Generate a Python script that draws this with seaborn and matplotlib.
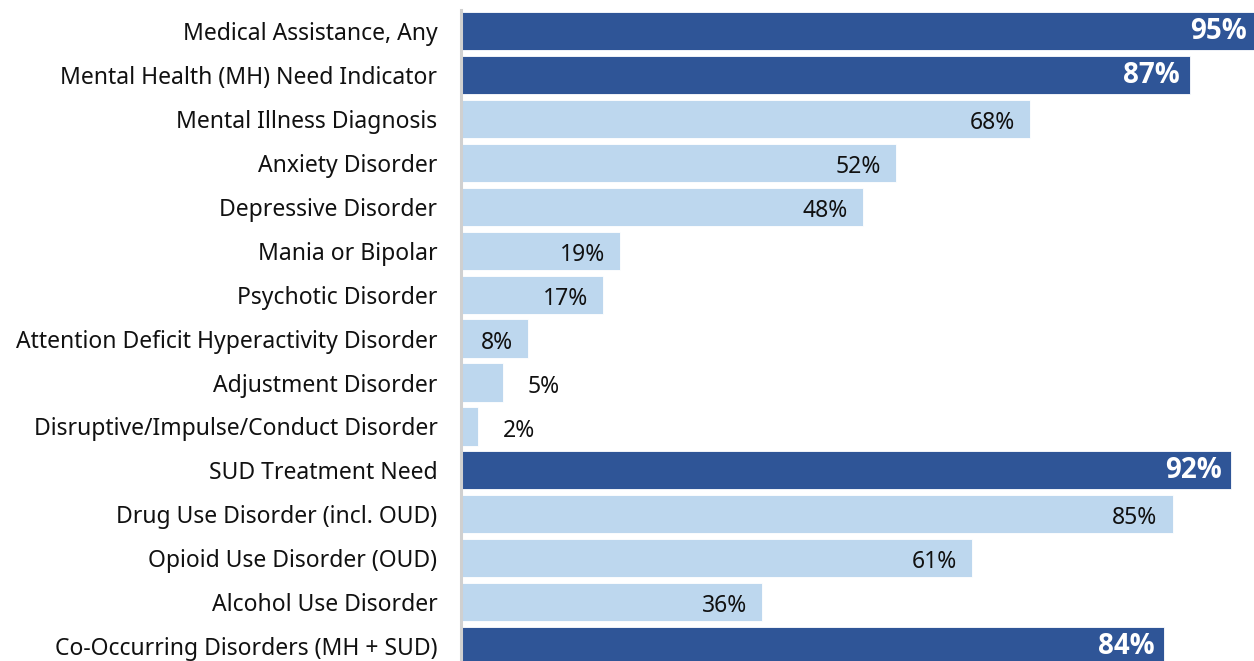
import matplotlib
matplotlib.use("Agg")
import matplotlib.pyplot as plt
import seaborn as sns

# ---------------------------------------------------------------------------
# Data
# ---------------------------------------------------------------------------
categories = [
    "Medical Assistance, Any",
    "Mental Health (MH) Need Indicator",
    "Mental Illness Diagnosis",
    "Anxiety Disorder",
    "Depressive Disorder",
    "Mania or Bipolar",
    "Psychotic Disorder",
    "Attention Deficit Hyperactivity Disorder",
    "Adjustment Disorder",
    "Disruptive/Impulse/Conduct Disorder",
    "SUD Treatment Need",
    "Drug Use Disorder (incl. OUD)",
    "Opioid Use Disorder (OUD)",
    "Alcohol Use Disorder",
    "Co-Occurring Disorders (MH + SUD)",
]
values = [95, 87, 68, 52, 48, 19, 17, 8, 5, 2, 92, 85, 61, 36, 84]
headline = [True, True, False, False, False, False, False, False, False, False,
            True, False, False, False, True]

_DARK = "#2F5597"
_LIGHT = "#BDD7EE"

sns.set_style("white")
plt.rcParams["font.family"] = ["Noto Sans", "DejaVu Sans"]

fig = plt.figure(figsize=(12.54, 6.61), dpi=100)
ax = fig.add_axes([461 / 1254, 0.0, 1 - 461 / 1254, 651 / 661])

palette = {c: (_DARK if h else _LIGHT) for c, h in zip(categories, headline)}
sns.barplot(
    x=values,
    y=categories,
    hue=categories,
    palette=palette,
    saturation=1,
    legend=False,
    orient="h",
    width=0.87,
    edgecolor="white",
    linewidth=0.6,
    ax=ax,
)

ax.set_xlim(0, 94.7)
ax.set_ylim(14.34, -0.48)
ax.set_xticks([])
ax.set_xlabel("")
ax.set_ylabel("")
ax.tick_params(axis="y", length=0, pad=17, labelsize=16.5, labelcolor="#111111")

for side in ["top", "right", "bottom"]:
    ax.spines[side].set_visible(False)
ax.spines["left"].set_color("#D0D0D0")
ax.spines["left"].set_linewidth(2.2)

# value labels
for i, (v, h) in enumerate(zip(values, headline)):
    if h:
        ax.annotate(f"{v}%", (v, i), xytext=(-7, 0), textcoords="offset points",
                    ha="right", va="center", color="white", fontsize=20,
                    fontweight="bold", family=["Open Sans", "DejaVu Sans"],
                    annotation_clip=False)
    elif v >= 8:
        ax.annotate(f"{v}%", (v, i), xytext=(-11, -3), textcoords="offset points",
                    ha="right", va="center", color="#111111", fontsize=16.5)
    else:
        ax.annotate(f"{v}%", (v, i), xytext=(18, -3), textcoords="offset points",
                    ha="left", va="center", color="#111111", fontsize=16.5)

plt.savefig("out.png", dpi=100)
plt.close()
